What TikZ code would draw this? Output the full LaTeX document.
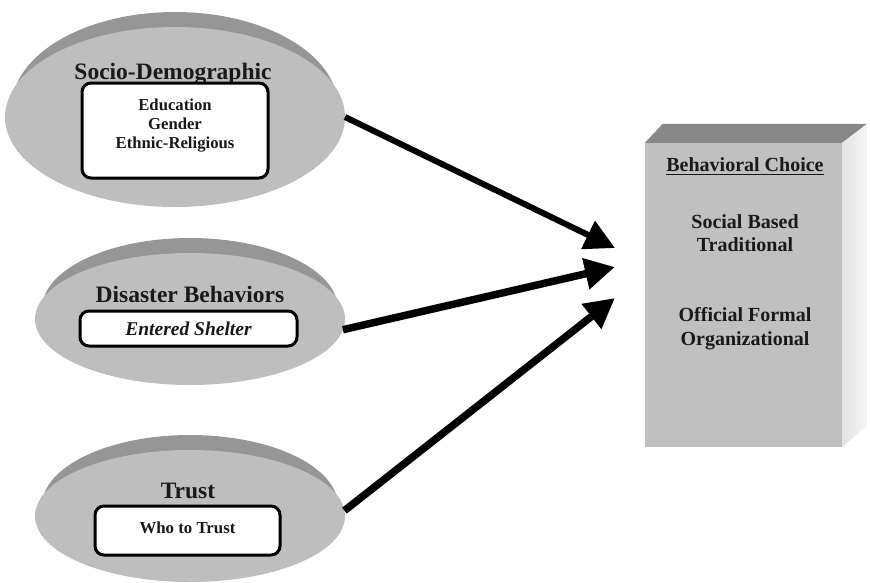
\documentclass[tikz,border=0pt]{standalone}
\usepackage{fontspec}
\setmainfont{Liberation Serif}
\usetikzlibrary{shapes.geometric,arrows.meta}
\definecolor{discface}{RGB}{190,190,190}
\definecolor{discrim}{RGB}{150,150,150}
\definecolor{boxfront}{RGB}{192,192,192}
\definecolor{boxtop}{RGB}{136,136,136}
\definecolor{boxside}{RGB}{228,228,228}
\definecolor{ink}{RGB}{25,25,25}
\begin{document}
\begin{tikzpicture}[x=1pt,y=-1pt,
  disc/.style={ellipse, fill=discface, inner sep=0pt, outer sep=0pt},
  rim/.style={fill=discrim},
  title/.style={font=\fontsize{23.5}{26}\selectfont\bfseries, text=ink, anchor=base, inner sep=0pt},
  itembox/.style={draw=black, line width=3pt, rounded corners=9pt, fill=white, inner sep=0pt},
  itemtext/.style={font=\fontsize{16.7}{19}\selectfont\bfseries, text=ink, align=center, inner sep=0pt},
  choicetext/.style={font=\fontsize{20}{23.3}\selectfont\bfseries, text=ink, align=center, inner sep=0pt},
  bigarrow/.style={-{Triangle[length=30pt,width=30pt]}, line width=7.5pt, black},
]
\useasboundingbox (0,0) rectangle (870,582);

% --- disc: Socio-Demographic
\fill[rim] (175,107) ellipse [x radius=163pt, y radius=95pt];
\node[disc, minimum width=340pt, minimum height=180pt] (disc1) at (175,117) {};
\node[title] (title1) at (173,79) {Socio-Demographic};
\node[itembox, minimum width=186pt, minimum height=95pt] (box1) at (175,130.5) {};
\node[itemtext] (items1) at (175,125.2) {Education\\Gender\\Ethnic-Religious};

% --- disc: Disaster Behaviors
\fill[rim] (190,309) ellipse [x radius=148pt, y radius=71pt];
\node[disc, minimum width=310pt, minimum height=132pt] (disc2) at (190,319) {};
\node[title] (title2) at (190,302) {Disaster Behaviors};
\node[itembox, minimum width=217pt, minimum height=35pt] (box2) at (188.5,328.5) {};
\node[font=\fontsize{19.5}{22}\selectfont\bfseries\itshape, text=ink, anchor=base, inner sep=0pt] (items2) at (188.5,335) {Entered Shelter};

% --- disc: Trust
\fill[rim] (190,506) ellipse [x radius=148pt, y radius=71pt];
\node[disc, minimum width=310pt, minimum height=132pt] (disc3) at (190,516) {};
\node[title] (title3) at (188,498) {Trust};
\node[itembox, minimum width=185pt, minimum height=49pt] (box3) at (187.5,530.5) {};
\node[font=\fontsize{16.8}{19}\selectfont\bfseries, text=ink, anchor=base, inner sep=0pt] (items3) at (187.5,533) {Who to Trust};

% --- block: Behavioral Choice
\node[fill=boxfront, minimum width=197pt, minimum height=304pt, inner sep=0pt] (choice) at (743.5,295) {};
\fill[boxtop] (choice.north west) -- (choice.north east) -- ++(25,-19) -- ([shift={(18,-19)}]choice.north west) -- cycle;
\shade[left color=boxside, right color=white!96!black] (choice.north east) -- ++(25,-19) -- ([shift={(25,-22)}]choice.south east) -- (choice.south east) -- cycle;
\node[font=\fontsize{20}{23}\selectfont\bfseries, text=ink, anchor=base, inner sep=0pt] (heading) at (745,171) {Behavioral Choice};
\draw[ink, line width=1.8pt] ([yshift=-3.5pt]heading.base west) -- ([yshift=-3.5pt]heading.base east);
\node[choicetext] (social) at (745,233.2) {Social Based\\Traditional};
\node[choicetext] (official) at (745,328.6) {Official Formal\\Organizational};

% --- arrows
\coordinate (tip1) at (615,248);
\coordinate (tip2) at (615,267);
\coordinate (tip3) at (615,298);
\draw[bigarrow, line width=6pt] (disc1.east) -- (tip1);
\draw[bigarrow] (disc2.-4) -- (tip2);
\draw[bigarrow] (disc3.2) -- (tip3);
\end{tikzpicture}
\end{document}
